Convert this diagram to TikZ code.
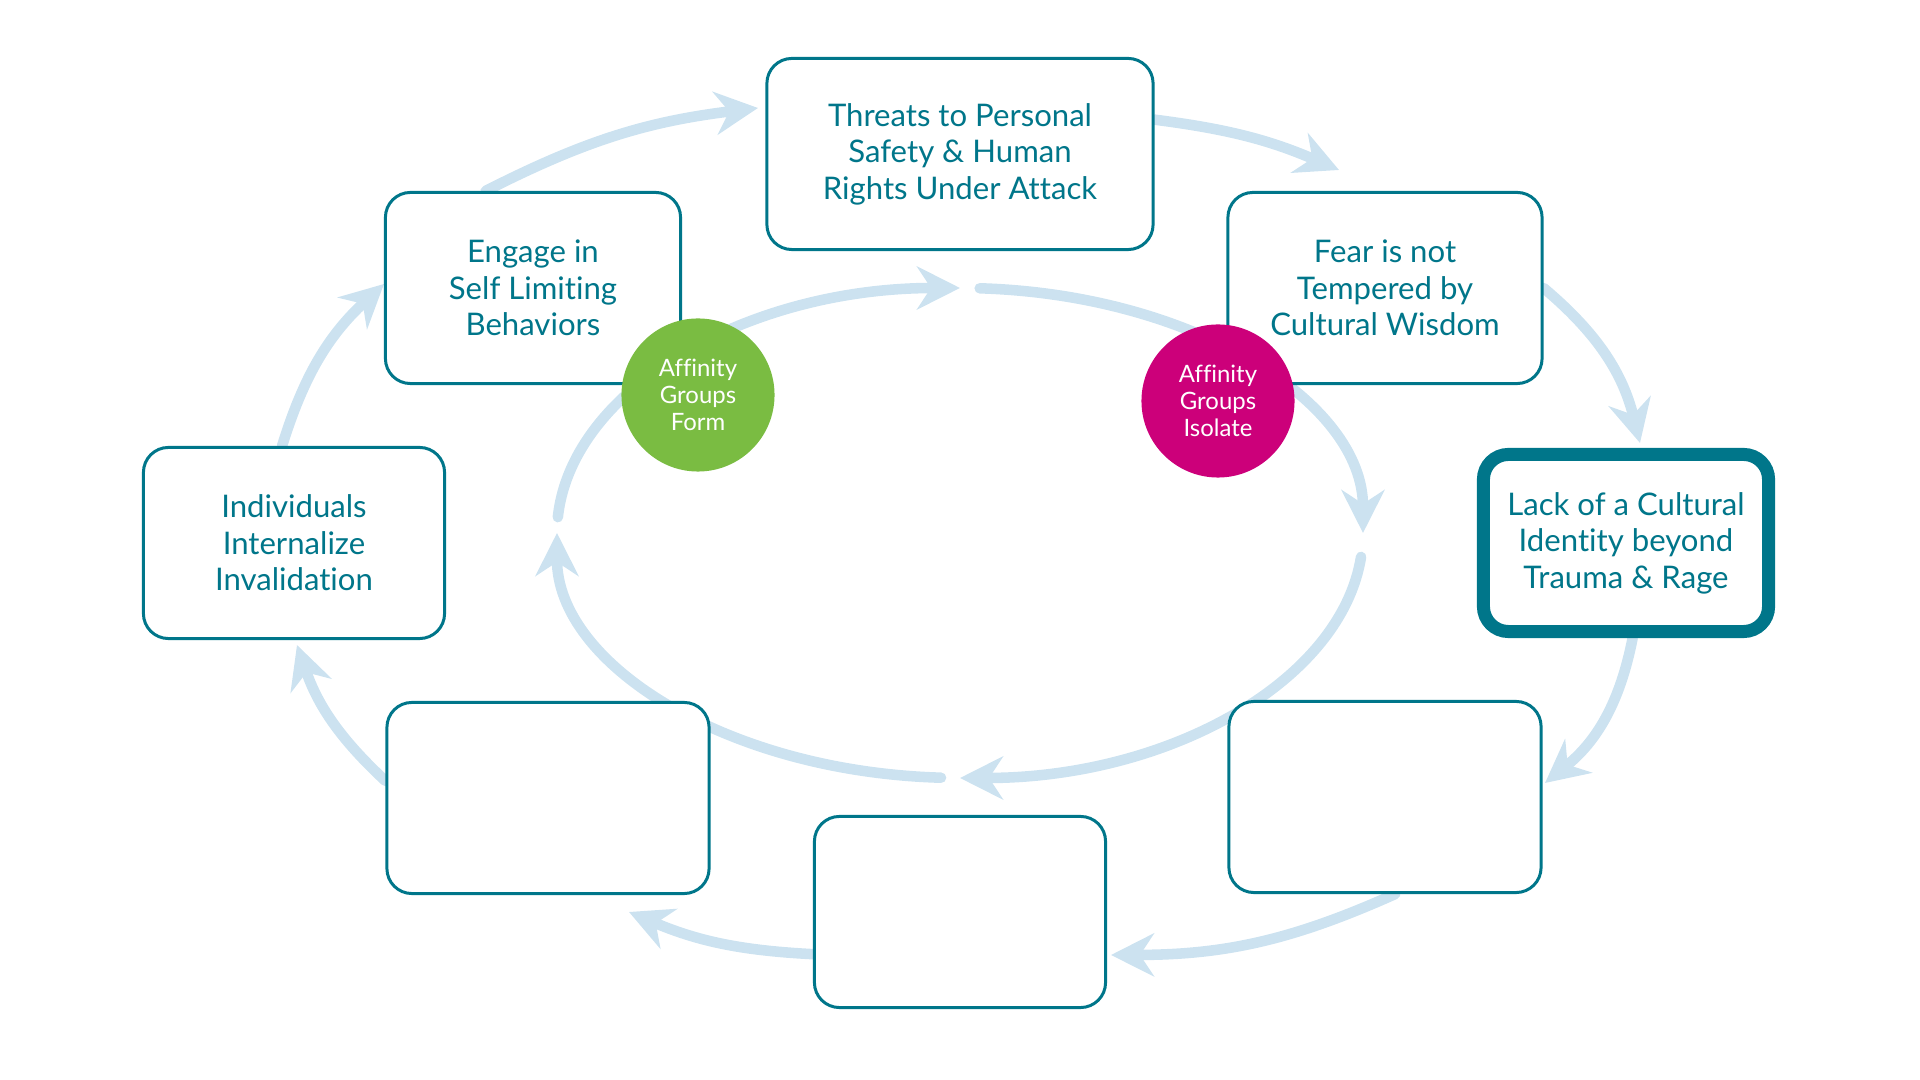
\documentclass[tikz,border=0pt]{standalone}
\usepackage{fontspec}
\setmainfont{Lato}[Ligatures=NoCommon]
\usetikzlibrary{arrows.meta,calc,backgrounds}

\definecolor{cycleteal}{RGB}{0,118,138}
\definecolor{flowblue}{RGB}{204,226,240}
\definecolor{formgreen}{RGB}{122,188,66}
\definecolor{isolatepink}{RGB}{204,0,122}

\tikzset{
    stage/.style={draw=cycleteal, line width=0.85pt, rounded corners=0.25cm, fill=white, text=cycleteal, align=center, inner sep=0pt, minimum height=1.91cm, font=\fontsize{8.85}{10.4}\selectfont},
    keystage/.style={stage, line width=3.7pt, minimum height=1.77cm},
    affinity/.style={circle, minimum size=1.53cm, inner sep=0pt, text=white, align=center, font=\fontsize{6.8}{7.7}\selectfont},
    flow/.style={draw=flowblue, line width=3pt, line cap=round, -{Stealth[length=0.43cm, width=0.43cm, inset=0.14cm]}}
}

\begin{document}
\begin{tikzpicture}[x=0.01cm, y=-0.01cm]
    \useasboundingbox (0,0) rectangle (1920,1080);

    % Stages
    \node[stage, minimum width=3.86cm] (threat) at (960,154) {Threats to Personal\\Safety \& Human\\Rights Under Attack};
    \node[stage, minimum width=3.14cm] (fear) at (1385,288) {Fear is not\\Tempered by\\Cultural Wisdom};
    \node[keystage, minimum width=2.85cm] (lack) at (1626,543) {Lack of a Cultural\\Identity beyond\\Trauma \& Rage};
    \node[stage, minimum width=3.12cm] (blankR) at (1385,797) {};
    \node[stage, minimum width=2.91cm] (blankC) at (960,912) {};
    \node[stage, minimum width=3.22cm] (blankL) at (548,798) {};
    \node[stage, minimum width=3.01cm] (indiv) at (294,543) {Individuals\\Internalize\\Invalidation};
    \node[stage, minimum width=2.95cm] (engage) at (533,288) {Engage in\\Self Limiting\\Behaviors};

    \node[affinity, fill=formgreen] (form) at (698,395) {Affinity\\Groups\\Form};
    \node[affinity, fill=isolatepink] (isolate) at (1218,401) {Affinity\\Groups\\Isolate};

    \coordinate (ring) at (960,533);
    \coordinate (tipA) at (758,108);
    \coordinate (tipB) at (1339,170);
    \coordinate (tipC) at (1640,443);
    \coordinate (tipD) at (1545,783);
    \coordinate (tipE) at (1111,955);
    \coordinate (tipF) at (629,912);
    \coordinate (tipG) at (297,645);
    \coordinate (tipH) at (384,284);

    \begin{pgfonlayer}{background}
    % Outer cycle
    \draw[flow] (engage.116) to[bend left=10] (tipA);
    \draw[flow] (threat.10) to[bend left=8] (tipB);
    \draw[flow] (fear.east) to[bend left=18] (tipC);
    \draw[flow] (lack.-86) to[bend left=20] (tipD);
    \draw[flow] (blankR.-84) to[bend left=12] (tipE);
    \draw[flow] (blankC.196) to[bend left=10] (tipF);
    \draw[flow] (blankL.174) to[bend left=14] (tipG);
    \draw[flow] (indiv.97) to[bend left=15] (tipH);

    % Inner ring
    \foreach \s/\e in {272.8/360, 5.6/90, 92.7/180, 183.7/270}
        \draw[flow] ($(ring)+(\s:403 and 245)$) arc[start angle=\s, end angle=\e, x radius=403, y radius=245];
    \end{pgfonlayer}
\end{tikzpicture}
\end{document}
